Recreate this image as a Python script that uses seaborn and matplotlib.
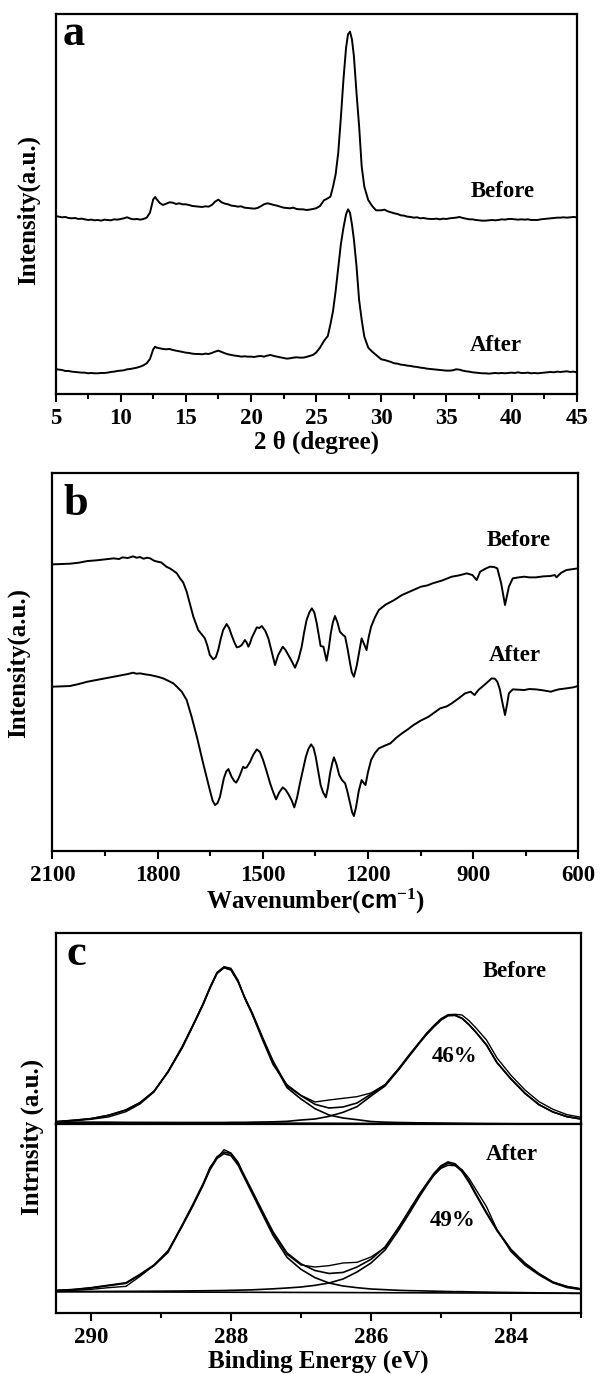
import numpy as np
import pandas as pd
import matplotlib
matplotlib.use("Agg")
import matplotlib.pyplot as plt
from matplotlib.ticker import FixedLocator
import seaborn as sns

sns.set_theme(style="ticks")
plt.rcParams.update({
    "font.family": ["Liberation Serif", "DejaVu Serif"],
    "font.weight": "bold",
    "axes.labelweight": "bold",
    "text.color": "black",
    "axes.labelcolor": "black",
    "xtick.labelcolor": "black",
    "axes.linewidth": 1.6,
    "axes.edgecolor": "black",
    "xtick.color": "black",
    "xtick.direction": "out",
    "xtick.major.size": 6,
    "xtick.minor.size": 3.5,
    "xtick.major.width": 1.5,
    "xtick.minor.width": 1.5,
    "xtick.major.pad": 4,
    "xtick.labelsize": 16.5,
    "axes.labelsize": 18,
    "mathtext.fontset": "custom",
    "mathtext.rm": "Liberation Serif:bold",
    "mathtext.bf": "Liberation Serif:bold",
    "mathtext.sf": "Liberation Sans:bold",
    "mathtext.it": "Liberation Serif:bold:italic",
})

# ---------------- Panel a: XRD ----------------
two_theta = [5.0, 5.25, 5.5, 5.75, 6.0, 6.25, 6.5, 6.75, 7.0, 7.25, 7.5, 7.75, 8.0, 8.25, 8.5,
             8.75, 9.0, 9.25, 9.5, 9.75, 10.0, 10.25, 10.5, 10.75, 11.0, 11.25, 11.5, 11.75, 12.0, 12.25,
             12.5, 12.65, 12.75,
             13.0, 13.25, 13.5, 13.75, 14.0, 14.25, 14.5, 14.75, 15.0, 15.25, 15.5, 15.75, 16.0, 16.25,
             16.5, 16.75, 17.0, 17.25, 17.5, 17.75, 18.0, 18.25, 18.5, 18.75, 19.0, 19.25, 19.5, 19.75,
             20.0, 20.25, 20.5, 20.75, 21.0, 21.25, 21.5, 21.75, 22.0, 22.25, 22.5, 22.75, 23.0, 23.25,
             23.5, 23.75, 24.0, 24.25, 24.5, 24.75, 25.0,
             25.3, 25.6, 25.9, 26.1, 26.3, 26.5, 26.7, 26.9, 27.1, 27.3, 27.45, 27.6, 27.75, 27.9, 28.1,
             28.3, 28.5, 28.7, 29.0, 29.3, 29.6,
             30.0, 30.25, 30.5, 30.75, 31.0, 31.25, 31.5, 31.75, 32.0, 32.25, 32.5, 32.75, 33.0, 33.25,
             33.5, 33.75, 34.0, 34.25, 34.5, 34.75, 35.0, 35.25, 35.5, 35.75, 36.0, 36.25, 36.5, 36.75,
             37.0, 37.25, 37.5, 37.75, 38.0, 38.25, 38.5, 38.75, 39.0, 39.25, 39.5, 39.75, 40.0, 40.25,
             40.5, 40.75, 41.0, 41.25, 41.5, 41.75, 42.0, 42.25, 42.5, 42.75, 43.0, 43.25, 43.5, 43.75,
             44.0, 44.25, 44.5, 44.75, 45.0]

xrd_before = [53.5, 53.3, 53.1, 53.2, 52.9, 52.8, 52.9, 52.6, 52.7, 52.5, 52.3, 52.4, 52.2, 52.3, 52.1,
              52.4, 52.3, 52.2, 52.5, 52.4, 52.6, 52.8, 53.1, 52.7, 52.5, 52.6, 52.4, 52.6, 53.0, 54.5,
              58.5, 59.2, 58.6,
              57.4, 56.8, 57.2, 57.6, 57.5, 57.1, 57.3, 57.0, 57.0, 56.8, 56.5, 56.4, 56.3, 56.2,
              56.4, 56.3, 56.8, 57.8, 58.4, 57.6, 57.2, 57.0, 56.6, 56.5, 56.3, 56.4, 56.0, 55.9,
              55.8, 55.7, 55.9, 56.4, 57.0, 57.3, 57.1, 56.8, 56.6, 56.3, 56.0, 55.9, 55.8, 56.0,
              55.6, 55.5, 55.5, 55.3, 55.4, 55.6, 55.8,
              56.5, 58.2, 58.8, 59.3, 62.3, 66.0, 72.5, 83.0, 94.5, 104.0, 108.0, 108.8, 106.5, 101.5, 90.5,
              80.5, 68.3, 62.3, 58.3, 56.5, 55.2,
              55.2, 55.4, 54.9, 54.6, 54.3, 54.1, 53.7, 53.6, 53.3, 53.2, 53.0, 53.1, 52.8, 52.9,
              52.7, 52.6, 52.6, 52.7, 52.5, 52.7, 52.6, 52.8, 52.9, 53.0, 53.2, 52.9, 52.7, 52.5,
              52.5, 52.3, 52.2, 52.1, 52.1, 52.2, 52.3, 52.2, 52.3, 52.5, 52.4, 52.6, 52.6, 52.5,
              52.4, 52.5, 52.4, 52.5, 52.3, 52.3, 52.3, 52.5, 52.6, 52.7, 52.8, 52.9, 53.0, 53.0,
              53.1, 53.0, 53.1, 53.2, 53.1]

xrd_after = [7.6, 7.4, 7.3, 7.0, 7.0, 6.8, 6.7, 6.6, 6.5, 6.5, 6.3, 6.4, 6.3, 6.3, 6.4,
             6.4, 6.5, 6.7, 6.8, 7.0, 7.1, 7.2, 7.5, 7.6, 7.8, 8.0, 8.3, 8.7, 9.3, 10.6,
             13.5, 14.3, 14.0,
             13.8, 13.6, 13.5, 13.6, 13.3, 13.1, 12.9, 12.7, 12.5, 12.4, 12.2, 12.1, 12.1, 12.0,
             12.2, 12.1, 12.4, 12.8, 13.1, 12.7, 12.3, 12.0, 11.8, 11.6, 11.5, 11.3, 11.4, 11.3,
             11.3, 11.2, 11.4, 11.5, 11.3, 11.6, 11.8, 11.5, 11.3, 11.1, 10.9, 10.7, 10.8, 11.0,
             11.1, 11.0, 11.0, 11.2, 11.5, 11.8, 12.5,
             14.0, 16.0, 17.5, 21.0, 25.0, 31.0, 38.0, 45.0, 50.0, 54.0, 55.5, 54.5, 51.0, 46.5, 38.5,
             28.3, 22.3, 17.3, 14.0, 12.8, 11.8,
             10.5, 10.3, 10.0, 9.7, 9.3, 9.2, 8.9, 8.8, 8.6, 8.5, 8.3, 8.2, 8.0, 7.9,
             7.7, 7.6, 7.5, 7.4, 7.3, 7.2, 7.1, 7.1, 7.2, 7.5, 7.4, 7.1, 6.9, 6.8,
             6.6, 6.5, 6.4, 6.3, 6.3, 6.2, 6.3, 6.4, 6.3, 6.4, 6.3, 6.4, 6.5, 6.4,
             6.6, 6.4, 6.4, 6.5, 6.3, 6.4, 6.3, 6.4, 6.5, 6.6, 6.7, 6.6, 6.8, 6.7,
             6.8, 6.9, 6.7, 6.8, 6.6]

# ---------------- Panel b: FTIR ----------------
wn_before = [2100, 2075, 2050, 2025, 2000, 1975, 1950, 1925, 1910, 1900,
             1885, 1870, 1860, 1850, 1840, 1830, 1821, 1810, 1800, 1790,
             1784, 1775, 1765, 1755, 1745, 1736, 1727, 1717, 1708, 1698,
             1684, 1675, 1665, 1658, 1651, 1641, 1634, 1627, 1620, 1613,
             1603, 1596, 1589, 1581, 1574, 1567, 1560, 1551, 1546, 1541,
             1536, 1532, 1524, 1517, 1510, 1503, 1493, 1484, 1474, 1465,
             1456, 1443, 1435, 1427, 1418, 1408, 1398, 1389, 1382, 1375,
             1367, 1360, 1353, 1346, 1340, 1335, 1327, 1318, 1312, 1306,
             1300, 1294, 1287, 1280, 1272, 1265, 1258, 1251, 1246, 1240,
             1232, 1224, 1218, 1211, 1204, 1198, 1191, 1180, 1169, 1150,
             1125, 1103, 1075, 1049, 1030, 1016, 990, 961, 940, 918,
             902, 890, 880, 865, 852, 840, 831, 820, 809, 798,
             787, 770, 754, 740, 721, 700, 680, 667, 662, 650,
             634, 615, 601]
ir_before = [85.9, 86.0, 86.1, 86.4, 86.9, 87.1, 87.4, 87.7, 87.5, 88.0,
             87.8, 88.3, 87.9, 88.1, 87.6, 87.9, 87.7, 87.0, 86.7, 86.5,
             86.0, 85.2, 84.7, 84.0, 83.2, 81.7, 80.5, 77.7, 74.2, 70.2,
             66.2, 65.0, 63.7, 61.5, 58.7, 57.4, 58.0, 60.2, 63.5, 66.2,
             68.0, 66.8, 64.7, 62.5, 61.0, 61.2, 61.7, 63.2, 62.5, 61.2,
             62.3, 63.7, 65.5, 67.0, 66.8, 67.4, 66.0, 63.7, 59.5, 55.7,
             58.7, 61.2, 60.2, 58.7, 57.0, 54.9, 57.5, 61.2, 65.5, 69.2,
             71.5, 72.7, 71.5, 68.2, 64.5, 61.4, 61.2, 57.0, 60.5, 65.2,
             68.5, 70.4, 68.5, 65.7, 64.8, 64.2, 60.5, 56.2, 53.5, 52.2,
             55.5, 60.2, 63.7, 62.0, 60.2, 64.0, 67.2, 70.0, 72.2, 73.8,
             75.2, 76.7, 78.0, 79.2, 79.6, 80.2, 81.0, 82.2, 82.6, 83.2,
             82.7, 81.2, 83.7, 84.6, 85.2, 85.1, 84.7, 80.2, 73.7, 79.2,
             81.7, 82.0, 82.2, 82.0, 82.0, 82.3, 82.4, 82.7, 82.0, 83.3,
             84.2, 84.5, 84.7]

wn_after = [2100, 2075, 2050, 2025, 2000, 1975, 1950, 1925, 1900, 1885,
            1870, 1860, 1850, 1835, 1821, 1800, 1784, 1770, 1755, 1745,
            1731, 1717, 1703, 1688, 1670, 1660, 1651, 1643, 1636, 1629,
            1622, 1611, 1604, 1598, 1589, 1582, 1576, 1570, 1565, 1556,
            1551, 1546, 1536, 1527, 1517, 1508, 1499, 1489, 1479, 1470,
            1462, 1453, 1443, 1435, 1427, 1418, 1410, 1402, 1394, 1385,
            1377, 1370, 1362, 1355, 1349, 1342, 1335, 1328, 1320, 1314,
            1308, 1302, 1297, 1290, 1282, 1274, 1265, 1258, 1251, 1245,
            1240, 1234, 1226, 1218, 1212, 1207, 1200, 1191, 1180, 1169,
            1150, 1136, 1120, 1103, 1085, 1070, 1050, 1027, 1010, 994,
            975, 961, 940, 923, 907, 896, 885, 865, 847, 838,
            831, 824, 818, 809, 803, 798, 787, 770, 754, 740,
            721, 700, 678, 670, 656, 634, 615, 601]
ir_after = [49.2, 49.3, 49.4, 50.0, 50.7, 51.2, 51.7, 52.2, 52.7, 53.0,
            53.4, 53.1, 53.2, 52.9, 52.7, 52.2, 51.7, 51.0, 50.2, 49.2,
            47.7, 45.2, 40.2, 34.2, 26.2, 22.0, 18.2, 15.0, 13.7, 14.3,
            16.2, 21.7, 23.8, 24.5, 22.2, 21.0, 20.4, 21.5, 22.7, 25.2,
            24.8, 25.0, 26.7, 28.8, 30.4, 29.6, 27.2, 23.8, 20.2, 17.5,
            15.4, 17.5, 19.0, 18.3, 17.0, 15.2, 13.0, 16.0, 20.2, 24.5,
            28.2, 30.5, 31.9, 30.8, 28.2, 24.0, 19.7, 17.5, 16.0, 19.0,
            23.2, 26.2, 28.0, 26.0, 22.7, 21.2, 20.2, 17.5, 14.2, 11.5,
            10.4, 13.0, 18.0, 21.2, 20.3, 19.7, 23.5, 27.2, 29.3, 30.7,
            31.6, 32.2, 33.8, 35.2, 36.5, 37.7, 39.0, 40.2, 41.5, 42.7,
            43.3, 44.2, 45.8, 47.2, 47.7, 46.7, 48.2, 50.0, 51.7, 51.6,
            50.7, 48.5, 45.2, 40.7, 44.0, 47.2, 48.4, 48.3, 48.2, 48.5,
            48.4, 48.1, 47.7, 48.0, 48.4, 48.7, 49.0, 49.4]

# ---------------- Panel c: XPS ----------------
be = [290.5, 290.25, 290.0, 289.75, 289.5, 289.3, 289.1, 288.9, 288.7, 288.55,
      288.4, 288.3, 288.2, 288.1, 288.0, 287.9, 287.8, 287.7, 287.55, 287.4,
      287.2, 287.0, 286.8, 286.6, 286.4, 286.2, 286.0, 285.8, 285.6, 285.45,
      285.3, 285.2, 285.1, 285.0, 284.9, 284.8, 284.7, 284.6, 284.5, 284.35,
      284.2, 284.0, 283.8, 283.6, 283.4, 283.2, 283.0]

before_raw = [0.4, 0.8, 1.2, 1.9, 3.5, 5.8, 9.4, 15.6, 23.0, 29.3,
              35.9, 40.9, 45.3, 47.0, 46.5, 43.0, 37.3, 32.8, 25.0, 17.6,
              11.6, 8.4, 6.4, 7.0, 7.5, 8.0, 9.1, 11.6, 16.6, 20.7,
              24.6, 27.2, 29.4, 31.4, 32.6, 32.7, 32.5, 30.8, 28.6, 25.0,
              19.6, 14.4, 10.0, 6.5, 4.2, 2.6, 1.8]
before_fit = [0.5, 0.9, 1.4, 2.4, 4.0, 6.2, 9.6, 15.4, 22.6, 29.0,
              35.6, 40.6, 45.0, 46.7, 46.1, 42.6, 37.6, 33.3, 25.8, 18.7,
              11.2, 8.3, 5.7, 4.6, 4.9, 6.1, 8.75, 11.5, 16.4, 20.4,
              24.4, 26.9, 29.05, 31.05, 32.35, 32.42, 31.5, 29.6, 27.3, 23.5,
              18.2, 13.3, 9.0, 5.6, 3.4, 2.0, 1.3]
before_c1 = [0.5, 0.9, 1.4, 2.4, 4.0, 6.2, 9.6, 15.4, 22.6, 29.0,
             35.6, 40.6, 45.0, 46.7, 46.0, 42.5, 37.5, 33.0, 25.5, 18.3,
             10.7, 7.3, 4.4, 2.5, 1.6, 1.1, 0.55, 0.35, 0.25, 0.2,
             0.15, 0.12, 0.1, 0.08, 0.05, 0.03, 0.0, -0.02, -0.05, -0.08,
             -0.1, -0.13, -0.16, -0.19, -0.22, -0.25, -0.3]
before_c2 = [0.3, 0.3, 0.3, 0.3, 0.25, 0.25, 0.25, 0.25, 0.25, 0.25,
             0.25, 0.25, 0.25, 0.25, 0.3, 0.3, 0.3, 0.35, 0.4, 0.45,
             0.6, 1.0, 1.3, 2.1, 3.3, 5.0, 8.2, 11.2, 16.2, 20.3,
             24.3, 26.8, 29.0, 31.0, 32.3, 32.4, 31.5, 29.6, 27.3, 23.5,
             18.2, 13.3, 9.0, 5.6, 3.4, 2.0, 1.3]
before_bg_x = [290.5, 283.0]
before_bg = [0.3, -0.3]

after_raw = [0.3, 0.4, 0.7, 1.2, 1.6, 4.6, 7.9, 12.3, 19.6, 25.5,
             32.0, 37.3, 40.0, 42.6, 41.6, 38.9, 34.0, 29.8, 23.7, 17.6,
             11.2, 8.0, 7.4, 7.8, 8.6, 8.8, 10.4, 13.2, 19.5, 24.6,
             29.6, 32.4, 35.0, 37.0, 37.9, 37.8, 36.6, 34.0, 30.6, 25.5,
             18.6, 12.0, 7.9, 5.0, 2.6, 1.2, 0.6]
after_fit = [0.37, 0.66, 1.19, 1.93, 2.67, 5.2, 8.03, 12.07, 19.92, 25.97,
             32.31, 37.05, 40.47, 41.91, 41.37, 38.62, 34.48, 30.34, 24.1, 17.96,
             11.62, 8.33, 6.35, 5.46, 5.77, 7.39, 9.7, 13.41, 19.33, 24.24,
             29.4, 32.55, 35.51, 37.77, 38.92, 38.38, 36.39, 33.14, 29.3, 23.76,
             18.52, 12.68, 8.55, 5.41, 2.87, 1.54, 0.8]
after_c1 = [0.35, 0.6, 1.1, 1.8, 2.5, 5.0, 7.8, 11.8, 19.6, 25.6,
            31.9, 36.6, 40.0, 41.4, 40.8, 38.0, 33.8, 29.6, 23.2, 16.9,
            10.3, 6.7, 4.2, 2.6, 1.7, 1.2, 0.8, 0.6, 0.4, 0.3,
            0.25, 0.2, 0.15, 0.1, 0.05, 0.0, 0.0, -0.05, -0.1, -0.15,
            -0.2, -0.25, -0.3, -0.35, -0.4, -0.45, -0.5]
after_c2 = [0.02, 0.04, 0.06, 0.08, 0.1, 0.12, 0.14, 0.17, 0.2, 0.24,
            0.27, 0.3, 0.32, 0.35, 0.4, 0.45, 0.5, 0.55, 0.7, 0.85,
            1.1, 1.4, 1.9, 2.6, 3.8, 5.9, 8.6, 12.5, 18.6, 23.6,
            28.8, 32.0, 35.0, 37.3, 38.5, 38.0, 36.0, 32.8, 29.0, 23.5,
            18.3, 12.5, 8.4, 5.3, 2.8, 1.5, 0.8]
after_bg_x = [290.5, 283.0]
after_bg = [0.0, -0.5]

# tick labels
ticks_a = [5, 10, 15, 20, 25, 30, 35, 40, 45]
ticks_b = [2100, 1800, 1500, 1200, 900, 600]
ticks_c = [290, 288, 286, 284]

# ---------------- drawing ----------------
W, H = 600, 1374
fig = plt.figure(figsize=(W / 100, H / 100), dpi=100)


def box(l, t, r, b):
    return [l / W, 1 - b / H, (r - l) / W, (b - t) / H]


def draw(ax, x, y, lw=1.4):
    sns.lineplot(x=x, y=y, ax=ax, color="black", linewidth=lw, sort=False,
                 estimator=None, errorbar=None, legend=False)


ax_a = fig.add_axes(box(55.5, 14, 576.7, 394.3))
ax_b = fig.add_axes(box(52.4, 472.7, 578.3, 850.7))
ax_ct = fig.add_axes(box(56, 933.3, 581, 1124))
ax_cb = fig.add_axes(box(56, 1124, 581, 1313))

# panel a
draw(ax_a, two_theta, xrd_before)
draw(ax_a, two_theta, xrd_after)
ax_a.set_xlim(5, 45)
ax_a.set_ylim(0, 114.1)
ax_a.xaxis.set_major_locator(FixedLocator(ticks_a))
ax_a.xaxis.set_minor_locator(FixedLocator([7.5, 12.5, 17.5, 22.5, 27.5, 32.5, 37.5, 42.5]))
ax_a.set_xticklabels([str(t) for t in ticks_a])
ax_a.set_xlabel("2 θ (degree)", labelpad=1)
ax_a.text(39.3, 60.7, "Before", ha="center", va="center", fontsize=16.5, fontweight="bold")
ax_a.text(38.8, 14.6, "After", ha="center", va="center", fontsize=16.5, fontweight="bold")

# panel b
draw(ax_b, wn_before, ir_before)
draw(ax_b, wn_after, ir_after)
ax_b.set_xlim(2100, 600)
ax_b.set_ylim(0, 113.4)
ax_b.xaxis.set_major_locator(FixedLocator(ticks_b))
ax_b.xaxis.set_minor_locator(FixedLocator([1950, 1650, 1350, 1050, 750]))
ax_b.set_xticklabels([str(t) for t in ticks_b])
ax_b.set_xlabel(r"Wavenumber($\mathsf{cm}^{\mathbf{-1}}$)", labelpad=1)
ax_b.text(770, 93.2, "Before", ha="center", va="center", fontsize=16.5, fontweight="bold")
ax_b.text(782, 58.7, "After", ha="center", va="center", fontsize=16.5, fontweight="bold")

# panel c (two stacked frames)
for y in (before_c1, before_c2, before_fit):
    draw(ax_ct, be, y, lw=1.2)
draw(ax_ct, be, before_raw, lw=1.0)
draw(ax_ct, before_bg_x, before_bg, lw=1.2)
ax_ct.set_xlim(290.5, 283.0)
ax_ct.set_ylim(-0.2, 57.0)
ax_ct.tick_params(axis="x", which="both", bottom=False, labelbottom=False)
ax_ct.set_xlabel("")
ax_ct.text(283.95, 45.5, "Before", ha="center", va="center", fontsize=16.5, fontweight="bold")
ax_ct.text(284.81, 20.0, "46%", ha="center", va="center", fontsize=16.5, fontweight="bold")

for y in (after_c1, after_c2, after_fit):
    draw(ax_cb, be, y, lw=1.2)
draw(ax_cb, be, after_raw, lw=1.0)
draw(ax_cb, after_bg_x, after_bg, lw=1.2)
ax_cb.set_xlim(290.5, 283.0)
ax_cb.set_ylim(-6.4, 50.3)
ax_cb.xaxis.set_major_locator(FixedLocator(ticks_c))
ax_cb.xaxis.set_minor_locator(FixedLocator([289, 287, 285, 283]))
ax_cb.set_xticklabels([str(t) for t in ticks_c])
ax_cb.set_xlabel("Binding Energy (eV)", labelpad=1)
ax_cb.text(283.99, 41.0, "After", ha="center", va="center", fontsize=16.5, fontweight="bold")
ax_cb.text(284.84, 21.5, "49%", ha="center", va="center", fontsize=16.5, fontweight="bold")

for ax in (ax_a, ax_b, ax_ct, ax_cb):
    ax.set_yticks([])
    ax.set_ylabel("")
    for s in ax.spines.values():
        s.set_visible(True)
        s.set_linewidth(1.6)
        s.set_color("black")
    ax.tick_params(axis="x", which="both", top=False, labelcolor="black", colors="black")

# panel letters
for (px, py, t) in [(63, 45, "a"), (63, 515, "b"), (67, 965, "c")]:
    fig.text(px / W, 1 - py / H, t, ha="left", va="baseline", fontsize=32,
             fontweight="bold", color="black")

# y labels
for (px, py, t) in [(28.7, 210, "Intensity(a.u.)"), (18.2, 663, "Intensity(a.u.)"),
                    (32.5, 1137, "Intrnsity (a.u.)")]:
    fig.text(px / W, 1 - py / H, t, rotation=90, ha="center", va="center",
             fontsize=18, fontweight="bold", color="black")

fig.savefig("out.png", dpi=100, facecolor="white")
